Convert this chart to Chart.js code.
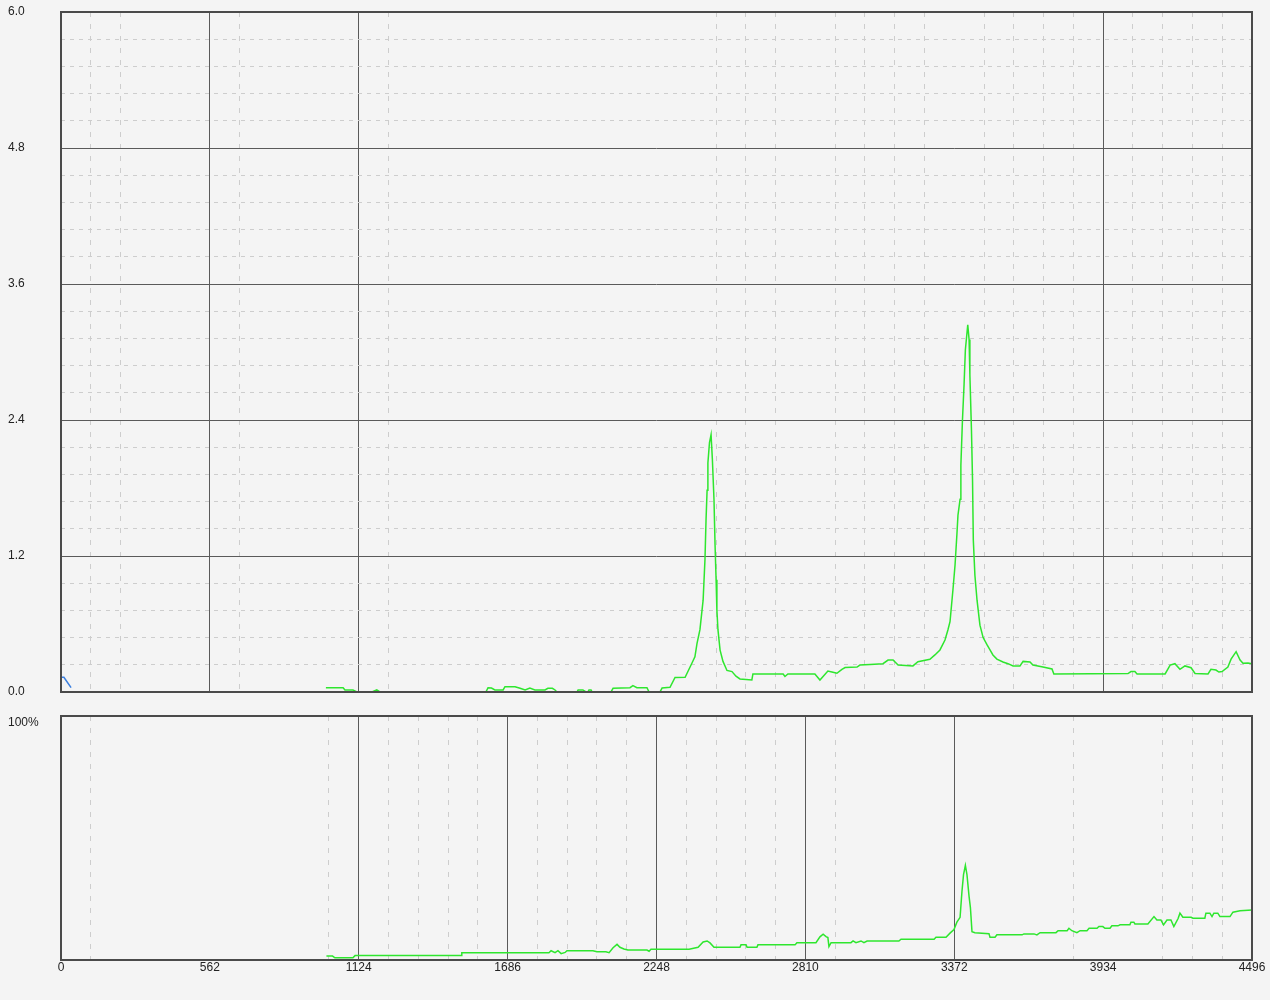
<!DOCTYPE html>
<html>
<head>
<meta charset="utf-8">
<script src="https://cdn.jsdelivr.net/npm/chart.js@4.4.1/dist/chart.umd.min.js"></script>
<style>
  html, body { margin: 0; padding: 0; background: #f4f4f4; }
  #wrap { position: relative; width: 1270px; height: 1000px; }
  canvas { position: absolute; left: 0; }
  #top { top: 0; }
  #bottom { top: 700px; }
</style>
</head>
<body>
<div id="wrap">
  <canvas id="top" width="1270" height="700"></canvas>
  <canvas id="bottom" width="1270" height="300"></canvas>
</div>
<script>
const $ = (id) => document.getElementById(id);

// ---- data ----
const xMajorTicks = [0, 562, 1124, 1686, 2248, 2810, 3372, 3934, 4496];
const yTopTicks = [0, 1.2, 2.4, 3.6, 4.8, 6.0];
const yBottomTicks = [0, 100];

// upper panel, green series
const topX = [1000, 1065, 1072, 1102, 1117, 1174, 1192, 1204, 1604, 1612, 1625, 1638, 1669, 1676, 1714, 1733, 1752, 1770, 1789, 1827,
  1838, 1855, 1865, 1872, 1948, 1952, 1970, 1982, 1989, 1993, 2001, 2005, 2076, 2084, 2148, 2159, 2174, 2212, 2220, 2261,
  2269, 2299, 2318, 2356, 2382, 2393, 2401, 2412, 2424, 2431, 2435, 2439, 2442, 2448, 2454, 2459, 2465, 2469, 2473, 2476,
  2480, 2488, 2499, 2514, 2533, 2548, 2563, 2608, 2612, 2726, 2733, 2744, 2846, 2865, 2895, 2910, 2929, 2948, 2960, 3005,
  3016, 3054, 3103, 3122, 3141, 3160, 3216, 3235, 3280, 3299, 3318, 3337, 3348, 3356, 3367, 3375, 3382, 3386, 3394, 3397,
  3403, 3409, 3414, 3423, 3428, 3431, 3437, 3441, 3444, 3450, 3458, 3469, 3481, 3496, 3507, 3518, 3533, 3556, 3575, 3594,
  3620, 3632, 3658, 3669, 3707, 3741, 3748, 4028, 4039, 4054, 4062, 4168, 4187, 4205, 4224, 4243, 4266, 4281, 4330, 4341,
  4360, 4371, 4383, 4405, 4417, 4436, 4451, 4462, 4481, 4496];
const topY = [0.038, 0.038, 0.018, 0.018, 0, 0, 0.018, 0, 0, 0.038, 0.035, 0.018, 0.018, 0.047, 0.047, 0.033, 0.018, 0.035, 0.018, 0.018,
  0.033, 0.033, 0.018, 0, 0, 0.018, 0.018, 0, 0, 0.018, 0.018, 0, 0, 0.033, 0.038, 0.056, 0.038, 0.038, 0, 0,
  0.035, 0.041, 0.128, 0.13, 0.256, 0.31, 0.43, 0.55, 0.81, 1.17, 1.52, 1.78, 2.02, 2.2, 2.27, 2.05, 1.7, 1.3, 0.99, 0.72,
  0.55, 0.37, 0.27, 0.19, 0.18, 0.14, 0.115, 0.106, 0.159, 0.159, 0.137, 0.159, 0.159, 0.106, 0.185, 0.177, 0.165, 0.2, 0.216, 0.22,
  0.238, 0.243, 0.25, 0.282, 0.282, 0.238, 0.23, 0.267, 0.289, 0.327, 0.371, 0.459, 0.547, 0.62, 0.9, 1.12, 1.39, 1.56, 1.7, 2.0,
  2.4, 2.71, 3.02, 3.24, 3.11, 2.8, 2.31, 1.87, 1.34, 1.03, 0.81, 0.59, 0.48, 0.415, 0.371, 0.327, 0.29, 0.265, 0.25, 0.23,
  0.23, 0.27, 0.265, 0.238, 0.22, 0.203, 0.159, 0.163, 0.18, 0.18, 0.159, 0.159, 0.238, 0.25, 0.2, 0.23, 0.214, 0.163, 0.159, 0.2,
  0.194, 0.176, 0.18, 0.22, 0.29, 0.356, 0.282, 0.253, 0.256, 0.25];

// upper panel, short blue series at the start
const blueX = [0, 0, 11, 38];
const blueY = [0, 0.13, 0.13, 0.038];

// lower panel, green series (percent)
const botX = [1002, 1025, 1034, 1102, 1110, 1510, 1513, 1842, 1850, 1865, 1876, 1888, 1903, 1910, 2008, 2023, 2057, 2069, 2084, 2099,
  2110, 2125, 2140, 2212, 2220, 2227, 2371, 2405, 2424, 2439, 2450, 2465, 2563, 2567, 2586, 2590, 2627, 2631, 2771, 2778,
  2850, 2865, 2877, 2888, 2895, 2899, 2907, 2982, 2990, 3001, 3020, 3031, 3043, 3163, 3171, 3296, 3303, 3341, 3356, 3371,
  3382, 3394, 3401, 3407, 3414, 3420, 3428, 3433, 3439, 3450, 3503, 3507, 3526, 3533, 3628, 3635, 3673, 3684, 3696, 3756,
  3764, 3798, 3805, 3816, 3835, 3847, 3873, 3881, 3911, 3918, 3933, 3941, 3960, 3967, 3990, 3998, 4035, 4039, 4050, 4054,
  4103, 4126, 4137, 4152, 4162, 4175, 4190, 4201, 4217, 4224, 4235, 4266, 4273, 4318, 4322, 4337, 4345, 4352, 4367, 4375,
  4413, 4424, 4451, 4496];
const botY = [1.6, 1.6, 0.9, 0.9, 1.8, 1.8, 3.0, 3.0, 3.8, 3.0, 3.8, 2.6, 3.1, 3.8, 3.8, 3.4, 3.4, 3.0, 5.0, 6.4,
  5.2, 4.5, 4.1, 4.1, 3.6, 4.4, 4.4, 5.2, 7.4, 7.8, 7.0, 5.2, 5.2, 6.2, 6.2, 5.2, 5.2, 6.2, 6.2, 7.1,
  7.1, 9.5, 10.6, 9.6, 9.2, 5.5, 7.1, 7.1, 7.8, 7.1, 7.8, 7.1, 7.8, 7.8, 8.5, 8.5, 9.3, 9.3, 11.0, 12.5,
  15.5, 17.5, 28, 35, 38.8, 35, 26, 21.5, 11.6, 11.2, 10.8, 9.3, 9.3, 10.3, 10.3, 10.7, 10.7, 10.3, 11.2, 11.2,
  12.0, 12.0, 13.0, 12.0, 11.2, 12.0, 12.0, 13.0, 13.0, 13.7, 13.7, 13.0, 13.0, 14.0, 14.0, 14.4, 14.4, 15.5, 15.5, 14.8,
  14.8, 17.8, 16.4, 16.4, 14.4, 16.4, 16.4, 13.7, 17.0, 19.2, 17.5, 17.5, 17.1, 17.1, 19.2, 19.2, 17.8, 19.2, 19.2, 17.8,
  17.8, 19.6, 20.2, 20.5];

// which of the 41 fine x grid positions are drawn in each panel
const topMajorIdx = [5, 10, 35];
const topMinorIdx = [1, 2, 6, 11, 22, 23, 24, 26, 27, 28, 29, 31, 32, 33, 34, 36, 37, 38, 39];
const botMajorIdx = [10, 15, 20, 25, 30];
const botMinorIdx = [1, 9, 11, 12, 13, 14, 16, 17, 18, 19, 21, 22, 23, 24, 26, 34, 37, 38, 39];

// ---- styling ----
const GREEN = "#2ee62e";
const BLUE = "#3b7fe0";
const SOLID = "#5a5a5a";
const DASH = "#cdcdcd";
const FRAME = "#4a4a4a";

Chart.defaults.font.family = "'Liberation Sans', Arial, sans-serif";
Chart.defaults.font.size = 12;
Chart.defaults.color = "#222";

function subTicks(majors, n) {
  const out = [];
  for (let i = 0; i < majors.length - 1; i++) {
    const a = majors[i];
    const b = majors[i + 1];
    for (let k = 0; k < n; k++) out.push(a + ((b - a) * k) / n);
  }
  out.push(majors[majors.length - 1]);
  return out;
}

const xFine = subTicks(xMajorTicks, 5);
const yTopFine = subTicks(yTopTicks, 5);

const pts = (xs, ys) => xs.map((x, i) => ({ x, y: ys[i] }));

const frame = {
  id: "frame",
  afterDatasetsDraw(chart) {
    const { ctx, chartArea: a } = chart;
    ctx.save();
    ctx.strokeStyle = FRAME;
    ctx.lineWidth = 2;
    ctx.strokeRect(a.left, a.top, a.right - a.left, a.bottom - a.top);
    ctx.restore();
  },
};

function xAxis(major, minor, showLabels) {
  return {
    type: "linear",
    min: 0,
    max: xMajorTicks[xMajorTicks.length - 1],
    afterBuildTicks: (s) => { s.ticks = xFine.map((v) => ({ value: v })); },
    afterFit: (s) => { s.height = showLabels ? 40 : 0; },
    ticks: {
      display: showLabels,
      autoSkip: false,
      maxRotation: 0,
      minRotation: 0,
      padding: 0,
      callback: (v, i) => (i % 5 === 0 ? String(xMajorTicks[i / 5]) : ""),
    },
    grid: {
      drawTicks: false,
      lineWidth: 1,
      color: (c) => (major.includes(c.index) ? SOLID : minor.includes(c.index) ? DASH : "transparent"),
    },
    border: {
      display: false,
      dash: (c) => (major.includes(c.index) ? [] : [5, 7]),
    },
  };
}

const lineDs = (data, color) => ({
  data,
  borderColor: color,
  backgroundColor: "transparent",
  borderWidth: 1.5,
  pointRadius: 0,
  tension: 0,
});

new Chart($("top"), {
  type: "line",
  data: {
    datasets: [lineDs(pts(topX, topY), GREEN), lineDs(pts(blueX, blueY), BLUE)],
  },
  options: {
    responsive: false,
    animation: false,
    layout: { padding: { left: 8, right: 18, top: 12, bottom: 8 } },
    plugins: { legend: { display: false }, tooltip: { enabled: false } },
    scales: {
      x: xAxis(topMajorIdx, topMinorIdx, false),
      y: {
        min: 0,
        max: 6,
        afterBuildTicks: (s) => { s.ticks = yTopFine.map((v) => ({ value: v })); },
        afterFit: (s) => { s.width = 53; },
        ticks: {
          autoSkip: false,
          crossAlign: "far",
          padding: 0,
          callback: (v, i) => (i % 5 === 0 ? yTopTicks[i / 5].toFixed(1) : ""),
        },
        grid: {
          drawTicks: false,
          lineWidth: 1,
          color: (c) => (c.index % 5 === 0 ? SOLID : DASH),
        },
        border: {
          display: false,
          dash: (c) => (c.index % 5 === 0 ? [] : [4, 5]),
        },
      },
    },
  },
  plugins: [frame],
});

new Chart($("bottom"), {
  type: "line",
  data: { datasets: [lineDs(pts(botX, botY), GREEN)] },
  options: {
    responsive: false,
    animation: false,
    layout: { padding: { left: 8, right: 18, top: 16, bottom: 0 } },
    plugins: { legend: { display: false }, tooltip: { enabled: false } },
    scales: {
      x: xAxis(botMajorIdx, botMinorIdx, true),
      y: {
        min: 0,
        max: 100,
        afterBuildTicks: (s) => { s.ticks = yBottomTicks.map((v) => ({ value: v })); },
        afterFit: (s) => { s.width = 53; },
        ticks: {
          crossAlign: "far",
          padding: 0,
          labelOffset: 7,
          callback: (v) => (v === 100 ? "100%" : ""),
        },
        grid: { display: false },
        border: { display: false },
      },
    },
  },
  plugins: [frame],
});
</script>
</body>
</html>
